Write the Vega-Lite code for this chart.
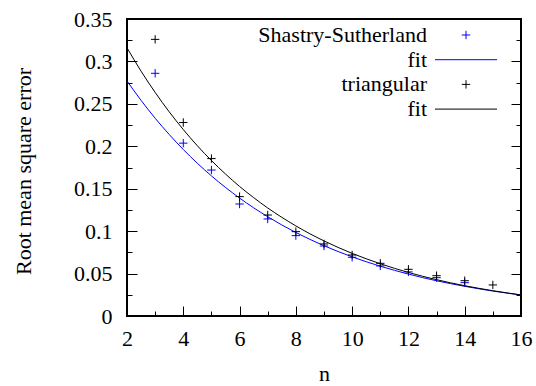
{
  "$schema": "https://vega.github.io/schema/vega-lite/v6.json",
  "width": 394,
  "height": 297,
  "autosize": {"type": "none"},
  "padding": {"left": 127, "top": 19, "right": 15, "bottom": 70},
  "background": "white",
  "config": {
    "font": "Liberation Serif",
    "view": {"stroke": "#000", "strokeWidth": 2},
    "axis": {
      "domain": false,
      "grid": false,
      "labelFont": "Liberation Serif",
      "labelFontSize": 22,
      "labelColor": "#000",
      "titleFont": "Liberation Serif",
      "titleFontSize": 22,
      "titleFontWeight": "normal",
      "titleColor": "#000",
      "tickColor": "#000",
      "tickWidth": 1,
      "labelOverlap": false,
      "labelFlush": false
    },
    "legend": {
      "labelFont": "Liberation Serif",
      "labelFontSize": 22,
      "labelColor": "#000",
      "labelAlign": "right",
      "labelOffset": -50,
      "labelLimit": 0,
      "symbolSize": 100,
      "symbolStrokeWidth": 1,
      "padding": 0,
      "rowPadding": 2.7
    }
  },
  "datasets": {
    "pts": [
      {"n": 3, "rmse": 0.286, "series": "Shastry-Sutherland"},
      {"n": 4, "rmse": 0.2037, "series": "Shastry-Sutherland"},
      {"n": 5, "rmse": 0.172, "series": "Shastry-Sutherland"},
      {"n": 6, "rmse": 0.132, "series": "Shastry-Sutherland"},
      {"n": 7, "rmse": 0.1144, "series": "Shastry-Sutherland"},
      {"n": 8, "rmse": 0.0947, "series": "Shastry-Sutherland"},
      {"n": 9, "rmse": 0.0825, "series": "Shastry-Sutherland"},
      {"n": 10, "rmse": 0.0692, "series": "Shastry-Sutherland"},
      {"n": 11, "rmse": 0.059, "series": "Shastry-Sutherland"},
      {"n": 12, "rmse": 0.052, "series": "Shastry-Sutherland"},
      {"n": 13, "rmse": 0.0452, "series": "Shastry-Sutherland"},
      {"n": 14, "rmse": 0.0393, "series": "Shastry-Sutherland"},
      {"n": 3, "rmse": 0.326, "series": "triangular"},
      {"n": 4, "rmse": 0.228, "series": "triangular"},
      {"n": 5, "rmse": 0.1855, "series": "triangular"},
      {"n": 6, "rmse": 0.1407, "series": "triangular"},
      {"n": 7, "rmse": 0.119, "series": "triangular"},
      {"n": 8, "rmse": 0.0994, "series": "triangular"},
      {"n": 9, "rmse": 0.0849, "series": "triangular"},
      {"n": 10, "rmse": 0.0719, "series": "triangular"},
      {"n": 11, "rmse": 0.0621, "series": "triangular"},
      {"n": 12, "rmse": 0.055, "series": "triangular"},
      {"n": 13, "rmse": 0.0475, "series": "triangular"},
      {"n": 14, "rmse": 0.0416, "series": "triangular"},
      {"n": 15, "rmse": 0.0366, "series": "triangular"}
    ],
    "fits": [
      {"n": 2, "rmse": 0.277, "series": "fit SS"},
      {"n": 2.5, "rmse": 0.2541, "series": "fit SS"},
      {"n": 3, "rmse": 0.2331, "series": "fit SS"},
      {"n": 3.5, "rmse": 0.2139, "series": "fit SS"},
      {"n": 4, "rmse": 0.1962, "series": "fit SS"},
      {"n": 4.5, "rmse": 0.18, "series": "fit SS"},
      {"n": 5, "rmse": 0.1651, "series": "fit SS"},
      {"n": 5.5, "rmse": 0.1515, "series": "fit SS"},
      {"n": 6, "rmse": 0.139, "series": "fit SS"},
      {"n": 6.5, "rmse": 0.1275, "series": "fit SS"},
      {"n": 7, "rmse": 0.117, "series": "fit SS"},
      {"n": 7.5, "rmse": 0.1073, "series": "fit SS"},
      {"n": 8, "rmse": 0.0984, "series": "fit SS"},
      {"n": 8.5, "rmse": 0.0903, "series": "fit SS"},
      {"n": 9, "rmse": 0.0828, "series": "fit SS"},
      {"n": 9.5, "rmse": 0.076, "series": "fit SS"},
      {"n": 10, "rmse": 0.0697, "series": "fit SS"},
      {"n": 11, "rmse": 0.0587, "series": "fit SS"},
      {"n": 12, "rmse": 0.0494, "series": "fit SS"},
      {"n": 13, "rmse": 0.0415, "series": "fit SS"},
      {"n": 14, "rmse": 0.035, "series": "fit SS"},
      {"n": 15, "rmse": 0.0294, "series": "fit SS"},
      {"n": 16, "rmse": 0.0248, "series": "fit SS"},
      {"n": 2, "rmse": 0.316, "series": "fit tri"},
      {"n": 2.5, "rmse": 0.2885, "series": "fit tri"},
      {"n": 3, "rmse": 0.2635, "series": "fit tri"},
      {"n": 3.5, "rmse": 0.2406, "series": "fit tri"},
      {"n": 4, "rmse": 0.2197, "series": "fit tri"},
      {"n": 4.5, "rmse": 0.2006, "series": "fit tri"},
      {"n": 5, "rmse": 0.1832, "series": "fit tri"},
      {"n": 5.5, "rmse": 0.1673, "series": "fit tri"},
      {"n": 6, "rmse": 0.1527, "series": "fit tri"},
      {"n": 6.5, "rmse": 0.1395, "series": "fit tri"},
      {"n": 7, "rmse": 0.1273, "series": "fit tri"},
      {"n": 7.5, "rmse": 0.1163, "series": "fit tri"},
      {"n": 8, "rmse": 0.1062, "series": "fit tri"},
      {"n": 8.5, "rmse": 0.0969, "series": "fit tri"},
      {"n": 9, "rmse": 0.0885, "series": "fit tri"},
      {"n": 9.5, "rmse": 0.0808, "series": "fit tri"},
      {"n": 10, "rmse": 0.0738, "series": "fit tri"},
      {"n": 11, "rmse": 0.0616, "series": "fit tri"},
      {"n": 12, "rmse": 0.0513, "series": "fit tri"},
      {"n": 13, "rmse": 0.0428, "series": "fit tri"},
      {"n": 14, "rmse": 0.0357, "series": "fit tri"},
      {"n": 15, "rmse": 0.0298, "series": "fit tri"},
      {"n": 16, "rmse": 0.0248, "series": "fit tri"}
    ]
  },
  "layer": [
    {
      "data": {"name": "pts"},
      "transform": [{"filter": "datum.series == 'Shastry-Sutherland'"}],
      "mark": {"type": "point", "filled": false, "size": 100, "strokeWidth": 1, "opacity": 1},
      "encoding": {
        "x": {"field": "n", "type": "quantitative", "scale": {"domain": [2, 16], "nice": false, "zero": false},
          "axis": {"orient": "bottom", "values": [2,3,4,5,6,7,8,9,10,11,12,13,14,15,16], "tickSize": -5, "labels": false, "title": null}},
        "y": {"field": "rmse", "type": "quantitative", "scale": {"domain": [0, 0.35], "nice": false},
          "axis": {"orient": "left", "values": [0,0.025,0.05,0.075,0.1,0.125,0.15,0.175,0.2,0.225,0.25,0.275,0.3,0.325,0.35], "tickSize": -5, "labels": false, "title": null}},
        "color": {"field": "series", "type": "nominal",
          "scale": {"domain": ["Shastry-Sutherland", "fit SS", "triangular", "fit tri"], "range": ["#0000ff", "#0000ff", "#000000", "#000000"]},
          "legend": {"title": null, "orient": "none", "legendX": 328, "legendY": 5, "labelExpr": "indexof(datum.label, 'fit') == 0 ? 'fit' : datum.label",
            "encode": {"symbols": {"update": {"stroke": {"scale": "color", "field": "value"}, "fill": {"value": "transparent"}}}}}},
        "shape": {"field": "series", "type": "nominal",
          "scale": {"domain": ["Shastry-Sutherland", "fit SS", "triangular", "fit tri"], "range": ["M-0.84,0L0.84,0M0,-0.84L0,0.84", "M-6.2,0L6.2,0", "M-0.84,0L0.84,0M0,-0.84L0,0.84", "M-6.2,0L6.2,0"]},
          "legend": {"title": null, "orient": "none", "legendX": 328, "legendY": 5, "labelExpr": "indexof(datum.label, 'fit') == 0 ? 'fit' : datum.label",
            "encode": {"symbols": {"update": {"stroke": {"scale": "color", "field": "value"}, "fill": {"value": "transparent"}}}}}}
      }
    },
    {
      "data": {"name": "fits"},
      "transform": [{"filter": "datum.series == 'fit SS'"}],
      "mark": {"type": "line", "strokeWidth": 1, "interpolate": "monotone"},
      "encoding": {
        "x": {"field": "n", "type": "quantitative",
          "axis": {"orient": "bottom", "values": [2,4,6,8,10,12,14,16], "tickSize": -10, "labelPadding": 22, "format": "~g", "title": "n", "titleX": 197, "titleY": 64, "titleBaseline": "alphabetic", "titleAlign": "center"}},
        "y": {"field": "rmse", "type": "quantitative",
          "axis": {"orient": "left", "values": [0,0.05,0.1,0.15,0.2,0.25,0.3,0.35], "tickSize": -10, "labelPadding": 25, "format": "~g", "title": "Root mean square error", "titleX": -104, "titleY": 152, "titleAngle": -90, "titleAlign": "center", "titleBaseline": "middle"}},
        "color": {"field": "series", "type": "nominal",
          "scale": {"domain": ["Shastry-Sutherland", "fit SS", "triangular", "fit tri"], "range": ["#0000ff", "#0000ff", "#000000", "#000000"]},
          "legend": {"title": null, "orient": "none", "legendX": 328, "legendY": 5, "labelExpr": "indexof(datum.label, 'fit') == 0 ? 'fit' : datum.label",
            "encode": {"symbols": {"update": {"stroke": {"scale": "color", "field": "value"}, "fill": {"value": "transparent"}}}}}}
      }
    },
    {
      "data": {"name": "pts"},
      "transform": [{"filter": "datum.series == 'triangular'"}],
      "mark": {"type": "point", "filled": false, "size": 100, "strokeWidth": 1, "opacity": 1},
      "encoding": {
        "x": {"field": "n", "type": "quantitative", "axis": null},
        "y": {"field": "rmse", "type": "quantitative",
          "axis": {"orient": "right", "values": [0,0.025,0.05,0.075,0.1,0.125,0.15,0.175,0.2,0.225,0.25,0.275,0.3,0.325,0.35], "tickSize": -5, "labels": false, "title": null}},
        "color": {"field": "series", "type": "nominal",
          "scale": {"domain": ["Shastry-Sutherland", "fit SS", "triangular", "fit tri"], "range": ["#0000ff", "#0000ff", "#000000", "#000000"]},
          "legend": {"title": null, "orient": "none", "legendX": 328, "legendY": 5, "labelExpr": "indexof(datum.label, 'fit') == 0 ? 'fit' : datum.label",
            "encode": {"symbols": {"update": {"stroke": {"scale": "color", "field": "value"}, "fill": {"value": "transparent"}}}}}},
        "shape": {"field": "series", "type": "nominal",
          "scale": {"domain": ["Shastry-Sutherland", "fit SS", "triangular", "fit tri"], "range": ["M-0.84,0L0.84,0M0,-0.84L0,0.84", "M-6.2,0L6.2,0", "M-0.84,0L0.84,0M0,-0.84L0,0.84", "M-6.2,0L6.2,0"]},
          "legend": {"title": null, "orient": "none", "legendX": 328, "legendY": 5, "labelExpr": "indexof(datum.label, 'fit') == 0 ? 'fit' : datum.label",
            "encode": {"symbols": {"update": {"stroke": {"scale": "color", "field": "value"}, "fill": {"value": "transparent"}}}}}}
      }
    },
    {
      "data": {"name": "fits"},
      "transform": [{"filter": "datum.series == 'fit tri'"}],
      "mark": {"type": "line", "strokeWidth": 1, "interpolate": "monotone"},
      "encoding": {
        "x": {"field": "n", "type": "quantitative", "axis": null},
        "y": {"field": "rmse", "type": "quantitative",
          "axis": {"orient": "right", "values": [0,0.05,0.1,0.15,0.2,0.25,0.3,0.35], "tickSize": -10, "labels": false, "title": null}},
        "color": {"field": "series", "type": "nominal",
          "scale": {"domain": ["Shastry-Sutherland", "fit SS", "triangular", "fit tri"], "range": ["#0000ff", "#0000ff", "#000000", "#000000"]},
          "legend": {"title": null, "orient": "none", "legendX": 328, "legendY": 5, "labelExpr": "indexof(datum.label, 'fit') == 0 ? 'fit' : datum.label",
            "encode": {"symbols": {"update": {"stroke": {"scale": "color", "field": "value"}, "fill": {"value": "transparent"}}}}}}
      }
    }
  ],
  "resolve": {"axis": {"x": "independent", "y": "independent"}}
}
